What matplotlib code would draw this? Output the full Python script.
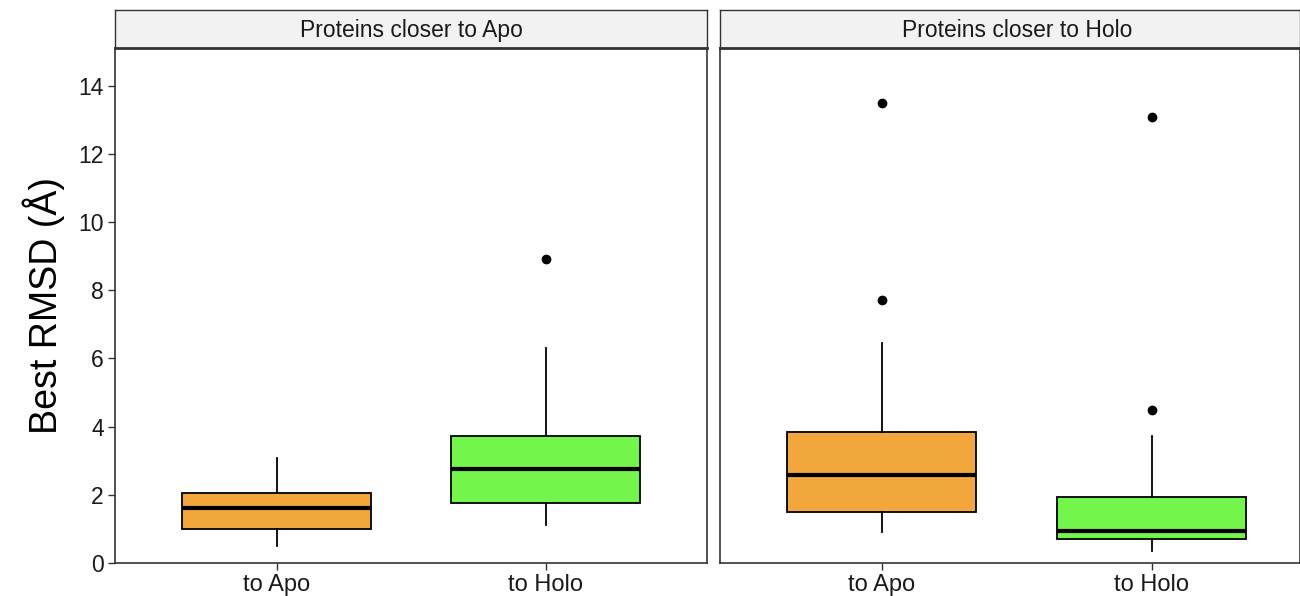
import matplotlib.pyplot as plt

plt.rcParams['font.family'] = ['Liberation Sans', 'DejaVu Sans']

panels = ['Proteins closer to Apo', 'Proteins closer to Holo']
groups = ['to Apo', 'to Holo']
colors = ['#f1a73b', '#73f54b']

# box stats per panel, order: to Apo, to Holo
whislo = [[0.50, 1.12], [0.91, 0.35]]
q1 = [[1.00, 1.76], [1.50, 0.71]]
med = [[1.62, 2.76], [2.59, 0.95]]
q3 = [[2.06, 3.71], [3.85, 1.94]]
whishi = [[3.09, 6.29], [6.44, 3.71]]
fliers = [[[], [8.92]], [[7.72, 13.48], [4.50, 13.08]]]

fig = plt.figure(figsize=(13, 5.96), dpi=100)

ax_pos = [[0.0885, 0.0554, 0.4554, 0.864], [0.5538, 0.0554, 0.4462, 0.864]]
xlims = [(0.4, 2.6), (0.4, 2.55)]

for p in range(2):
    ax = fig.add_axes(ax_pos[p])
    stats = []
    for g in range(2):
        stats.append(dict(med=med[p][g], q1=q1[p][g], q3=q3[p][g],
                          whislo=whislo[p][g], whishi=whishi[p][g],
                          fliers=fliers[p][g]))
    bp = ax.bxp(stats, positions=[1, 2], widths=0.7, patch_artist=True,
                showcaps=False,
                boxprops=dict(edgecolor='black', linewidth=1.3),
                medianprops=dict(color='black', linewidth=3),
                whiskerprops=dict(color='black', linewidth=1.3),
                flierprops=dict(marker='o', markerfacecolor='black',
                                markeredgecolor='black', markersize=6))
    for patch, c in zip(bp['boxes'], colors):
        patch.set_facecolor(c)
    ax.set_xlim(*xlims[p])
    ax.set_ylim(0, 15.1)
    ax.set_xticks([1, 2])
    ax.set_xticklabels(groups, fontsize=17, color='#1a1a1a')
    ax.set_yticks(range(0, 15, 2))
    ax.tick_params(direction='out', length=5, width=1, color='#333333', pad=3)
    if p == 0:
        ax.set_yticklabels([str(v) for v in range(0, 15, 2)], fontsize=16.5, color='#1a1a1a')
        ax.set_ylabel('Best RMSD (Å)', fontsize=27, labelpad=10)
    else:
        ax.tick_params(axis='y', left=False, labelleft=False)
    for s in ax.spines.values():
        s.set_color('#333333')
        s.set_linewidth(1.2)

    # facet strip
    pos = ax_pos[p]
    sx = fig.add_axes([pos[0], pos[1] + pos[3], pos[2], 0.0638])
    sx.set_facecolor('#f2f2f2')
    sx.set_xticks([])
    sx.set_yticks([])
    for s in sx.spines.values():
        s.set_color('#333333')
        s.set_linewidth(1.0)
    sx.spines['bottom'].set_linewidth(2)
    # strip text centred on the full (uncropped) panel width
    tx = 0.5 if p == 0 else (1.5 - 0.4) / (xlims[p][1] - 0.4)
    sx.text(tx, 0.45, panels[p], ha='center', va='center', fontsize=16.5,
            color='#1a1a1a', transform=sx.transAxes)

fig.savefig('out.png', dpi=100)
